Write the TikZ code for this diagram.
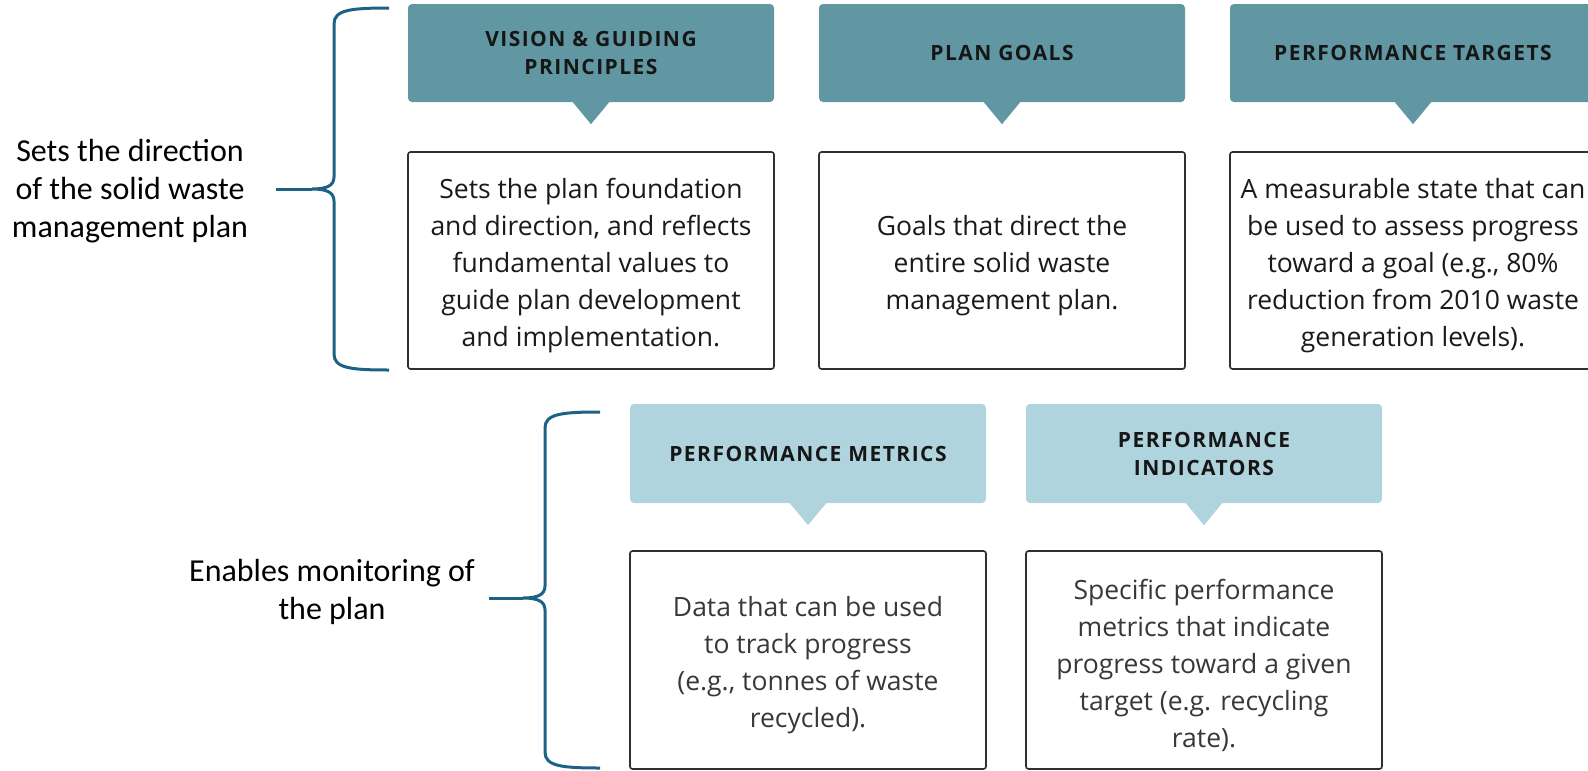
\documentclass[tikz,border=0pt]{standalone}
\usepackage{fontspec}
\setmainfont{Open Sans}
\newfontfamily\labfont{Carlito}
\newfontfamily\headfont{Open Sans}[LetterSpace=7]
\usetikzlibrary{calc}
\definecolor{headdark}{HTML}{6097A3}
\definecolor{headlight}{HTML}{B0D4DD}
\definecolor{bracecol}{HTML}{1D6286}
\definecolor{bodytop}{HTML}{1A1A1A}
\definecolor{bodybot}{HTML}{383838}
\definecolor{boxline}{HTML}{303030}
\definecolor{headtext}{HTML}{161616}
\begin{document}
\begin{tikzpicture}[x=1pt,y=-1pt,
  head/.style={rounded corners=4pt, inner sep=0pt, align=center,
    minimum height=98pt, text=headtext,
    font=\headfont\bfseries\fontsize{21}{28}\selectfont},
  headtop/.style={head, fill=headdark, minimum width=366pt},
  headbot/.style={head, fill=headlight, minimum width=356pt, minimum height=99pt},
  frame/.style={draw=boxline, line width=1.6pt, rounded corners=2.5pt, fill=white, inner sep=0pt},
  frametop/.style={frame, minimum width=366pt, minimum height=217pt},
  framebot/.style={frame, minimum width=356pt, minimum height=218pt},
  desc/.style={inner sep=0pt, align=center, font=\fontsize{26.5}{37}\selectfont},
  desctop/.style={desc, text=bodytop},
  descbot/.style={desc, text=bodybot},
  brace/.style={draw=bracecol, line width=3pt},
  sidelabel/.style={align=center, font=\labfont\fontsize{32}{38}\selectfont, text=black}
]
\useasboundingbox (0,0) rectangle (1588,771);

% top row headers
\node[headtop] (h1) at (591,53) {VISION \& GUIDING\\PRINCIPLES};
\node[headtop] (h2) at (1002,53) {PLAN GOALS};
\node[headtop] (h3) at (1413,53) {PERFORMANCE TARGETS};
\foreach \h in {h1,h2,h3}{
  \fill[headdark] ($(\h.south)+(-19,-1)$) -- ($(\h.south)+(0,22)$) -- ($(\h.south)+(19,-1)$) -- cycle;
}

% top row descriptions
\node[frametop] (f1) at (591,260.5) {};
\node[frametop] (f2) at (1002,260.5) {};
\node[frametop] (f3) at (1413,260.5) {};
\node[desctop] (d1) at ($(f1.center)+(0,5)$) {Sets the plan foundation\\and direction, and reflects\\fundamental values to\\guide plan development\\and implementation.};
\node[desctop] (d2) at ($(f2.center)+(0,5)$) {Goals that direct the\\entire solid waste\\management plan.};
\node[desctop] (d3) at ($(f3.center)+(0,5)$) {A measurable state that can\\be used to assess progress\\toward a goal (e.g., 80\%\\reduction from 2010 waste\\generation levels).};

% bottom row headers
\node[headbot] (h4) at (808,453.5) {PERFORMANCE METRICS};
\node[headbot] (h5) at (1204,453.5) {PERFORMANCE\\INDICATORS};
\foreach \h in {h4,h5}{
  \fill[headlight] ($(\h.south)+(-19,-1)$) -- ($(\h.south)+(0,22)$) -- ($(\h.south)+(19,-1)$) -- cycle;
}

% bottom row descriptions
\node[framebot] (f4) at (808,660) {};
\node[framebot] (f5) at (1204,660) {};
\node[descbot] (d4) at ($(f4.center)+(0,5)$) {Data that can be used\\to track progress\\ (e.g., tonnes of waste\\recycled).};
\node[descbot] (d5) at ($(f5.center)+(0,5)$) {Specific performance\\metrics that indicate\\progress toward a given\\target (e.g. recycling\\rate).};

% side labels
\node[sidelabel] (l1) at (130,191) {Sets the direction\\of the solid waste\\management plan};
\node[sidelabel] (l2) at (332,592) {Enables monitoring of\\the plan};

% braces
\coordinate (b1tip) at (312,189);
\coordinate (b1end) at (276,189);
\draw[brace] (389,8) .. controls (350,8) and (334,10) .. (334,24) -- (334,177)
  .. controls (334,186) and (326,189) .. (b1tip)
  .. controls (326,189) and (334,192) .. (334,201) -- (334,354)
  .. controls (334,368) and (350,370) .. (389,370);
\draw[brace] (b1end) -- (b1tip);

\coordinate (b2tip) at (523,598);
\coordinate (b2end) at (489,598);
\draw[brace] (600,412) .. controls (561,412) and (545,414) .. (545,428) -- (545,586)
  .. controls (545,595) and (537,598) .. (b2tip)
  .. controls (537,598) and (545,601) .. (545,610) -- (545,752)
  .. controls (545,766) and (561,768) .. (600,768);
\draw[brace] (b2end) -- (b2tip);
\end{tikzpicture}
\end{document}
